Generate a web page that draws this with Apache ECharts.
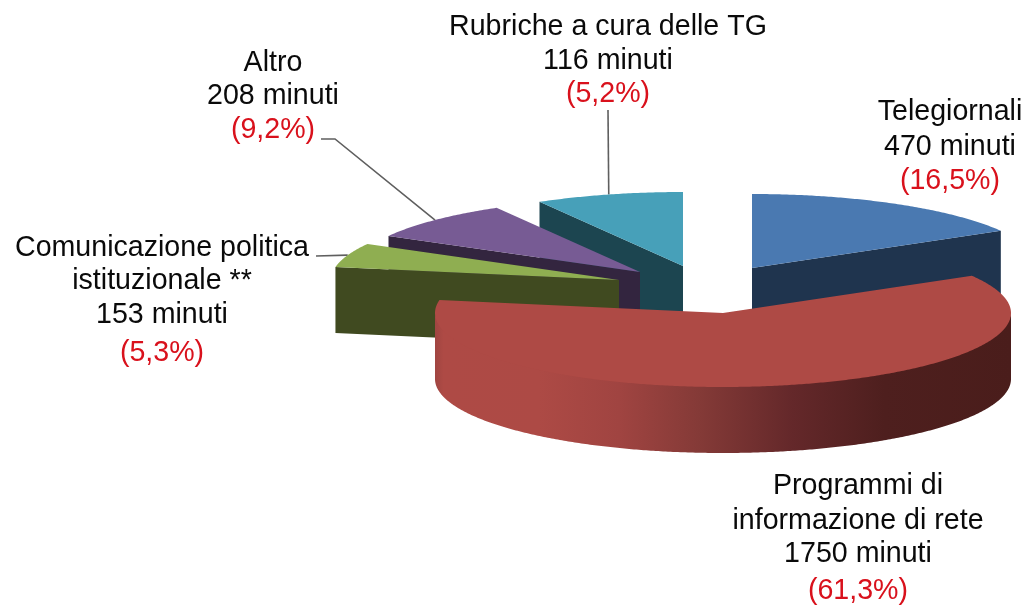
<!DOCTYPE html>
<html>
<head>
<meta charset="utf-8">
<style>html,body{margin:0;padding:0;background:#fff}#chart{width:1030px;height:605px}</style>
<script src="https://cdn.jsdelivr.net/npm/echarts@6/dist/echarts.min.js"></script>
</head>
<body>
<div id="chart"></div>
<script>
// ---- data ----
const categories = ['Telegiornali', 'Programmi di\ninformazione di rete', 'Comunicazione politica\nistituzionale **', 'Altro', 'Rubriche a cura delle TG'];
const minutes = [470, 1750, 153, 208, 116];
const percentLabels = ['(16,5%)', '(61,3%)', '(5,3%)', '(9,2%)', '(5,2%)'];
// share of the circle each slice occupies as drawn, in percent
const drawnShares = [16.6, 61.2, 5.3, 8.6, 8.3];

// ---- look and layout ----
const RX = 288, RY = 74, DEPTH = 66;
const centers = [[752, 268], [723, 313], [619, 280], [640, 272], [683, 266]];
const topColors = ['#4a79b1', '#ae4a45', '#8fae51', '#775b94', '#47a0b9'];
const sideColors = ['#1f344e', '#4a1d1b', '#404a20', '#33253f', '#1c4550'];
const paintRank = [3, 4, 2, 1, 0]; // back to front
const labelBoxes = [
  { x: 950, ys: [112, 147, 181] },
  { x: 858, ys: [486, 521, 554, 591] },
  { x: 162, ys: [248, 281, 315, 353] },
  { x: 273, ys: [63, 96, 130] },
  { x: 608, ys: [27, 61, 94] }
];
const leaders = [null, null, [[316, 256]], [[321, 139], [335, 139]], [[608, 110]]];
const FONT = '28.6px "Liberation Sans", Arial, sans-serif';

const rad = d => d * Math.PI / 180;
function rimPoint(c, deg, dy) {
  return [c[0] + RX * Math.sin(rad(deg)), c[1] - RY * Math.cos(rad(deg)) + (dy || 0)];
}
function arc(c, a, b, dy) {
  const n = Math.max(2, Math.ceil(Math.abs(b - a) * 2)), pts = [];
  for (let k = 0; k <= n; k++) pts.push(rimPoint(c, a + (b - a) * k / n, dy));
  return pts;
}
const total = drawnShares.reduce((s, v) => s + v, 0);

function renderItem(params, api) {
  const i = params.dataIndex;
  let before = 0;
  for (let k = 0; k < i; k++) before += drawnShares[k];
  const a0 = before / total * 360;
  const a1 = a0 + api.value(0) / total * 360;
  const mid = (a0 + a1) / 2;
  const c = centers[i];
  const base = paintRank[i] * 10 + 10;
  const top = c, low = [c[0], c[1] + DEPTH];
  const children = [];

  // leader line, painted under every slice
  if (leaders[i]) {
    children.push({
      type: 'polyline', z2: 1, silent: true,
      shape: { points: leaders[i].concat([rimPoint(c, mid)]) },
      style: { stroke: '#5f5f5f', lineWidth: 1.6, fill: null }
    });
  }
  // radial cut faces that look towards the viewer
  [a0, a1].forEach(function (ang, idx) {
    const e = rimPoint(c, ang);
    const visible = idx === 0 ? (ang > 180 && ang < 360) : (ang > 0 && ang < 180);
    if (!visible) return;
    children.push({
      type: 'polygon', z2: base,
      shape: { points: [top, e, [e[0], e[1] + DEPTH], low] },
      style: { fill: sideColors[i] }
    });
  });
  // outer wall (front half only); its upper edge tucks under the top surface
  const w0 = Math.max(a0, 90), w1 = Math.min(a1, 270);
  if (w1 > w0) {
    const upper = arc(c, w0, w1, -2), lower = arc(c, w1, w0, DEPTH);
    children.push({
      type: 'polygon', z2: base + 1,
      shape: { points: upper.concat(lower) },
      style: {
        fill: {
          type: 'linear', x: 1, y: 0, x2: 0, y2: 0,
          colorStops: [
            { offset: 0, color: '#4a1d1b' },
            { offset: 0.22, color: '#4e1f1e' },
            { offset: 0.38, color: '#64282a' },
            { offset: 0.54, color: '#843a37' },
            { offset: 0.68, color: '#a04441' },
            { offset: 0.82, color: '#ad4a45' },
            { offset: 0.985, color: '#ae4a45' },
            { offset: 1, color: '#a04541' }
          ]
        }
      }
    });
  }
  // top surface
  children.push({
    type: 'polygon', z2: base + 2,
    shape: { points: [top].concat(arc(c, a0, a1, 0)) },
    style: { fill: topColors[i] }
  });
  // label lines
  const lines = categories[i].split('\n').concat([minutes[i] + ' minuti', percentLabels[i]]);
  lines.forEach(function (t, k) {
    children.push({
      type: 'text', z2: 100, silent: true,
      style: {
        text: t, x: labelBoxes[i].x, y: labelBoxes[i].ys[k],
        align: 'center', verticalAlign: 'middle', font: FONT,
        fill: k === lines.length - 1 ? '#d9111c' : '#0a0a0a'
      }
    });
  });
  return { type: 'group', children: children };
}

const chart = echarts.init(document.getElementById('chart'), null, { renderer: 'canvas' });
chart.setOption({
  animation: false,
  backgroundColor: '#ffffff',
  series: [{
    type: 'custom',
    coordinateSystem: 'none',
    renderItem: renderItem,
    data: drawnShares.map(v => [v])
  }]
});
</script>
</body>
</html>
